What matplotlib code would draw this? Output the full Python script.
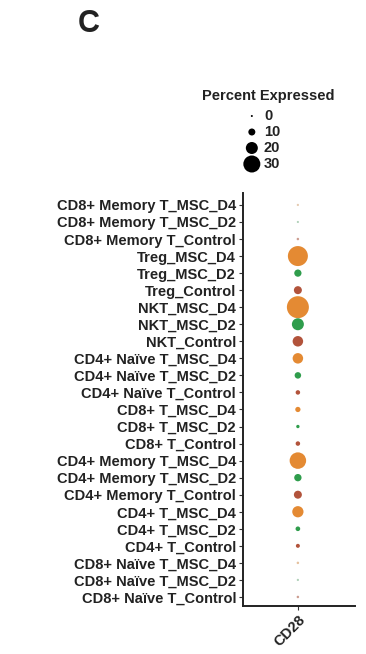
import numpy as np
import matplotlib.pyplot as plt
from matplotlib.colors import to_rgb

plt.rcParams['font.family'] = ['Liberation Sans', 'DejaVu Sans']
plt.rcParams['font.weight'] = 'bold'

# rows listed top to bottom
cell_types = ["CD8+ Memory T", "Treg", "NKT", "CD4+ Naïve T",
              "CD8+ T", "CD4+ Memory T", "CD4+ T", "CD8+ Naïve T"]
conditions = ["MSC_D4", "MSC_D2", "Control"]
cond_colors = {"MSC_D4": "#E48A33", "MSC_D2": "#2F9D4C", "Control": "#B2533B"}

# percent expressing CD28, one value per row (top to bottom)
pct_expr = [0.5, 0.3, 1.0,
            36, 10.5, 12,
            40, 20, 17,
            17, 9, 5,
            6.5, 2.7, 5,
            29, 10.7, 12,
            18.5, 5.3, 4,
            1.0, 0.5, 1.0]
# scaled average expression (colour intensity)
avg_exp = [0.3, 0.3, 0.5,
           1.0, 1.0, 1.0,
           1.0, 1.0, 1.0,
           1.0, 1.0, 1.0,
           1.0, 1.0, 1.0,
           1.0, 1.0, 1.0,
           1.0, 1.0, 1.0,
           0.4, 0.3, 0.5]
gene = "CD28"
legend_vals = [0, 10, 20, 30]

labels = [f"{c}_{k}" for c in cell_types for k in conditions]
row_cond = [k for c in cell_types for k in conditions]

FS = 10.5
TXT = "#222222"


def dot_size(p):
    # diameter in pixels -> area in points^2 (dpi 100)
    d = (2 + 0.5 * np.asarray(p)) * 0.72
    return d ** 2


def shade(cond, a):
    c = np.array(to_rgb(cond_colors[cond]))
    grey = np.array(to_rgb("#E6E6E6"))
    return tuple(grey + (c - grey) * a)


fig = plt.figure(figsize=(3.66, 6.54), dpi=100)
ax = fig.add_axes([243 / 366, 1 - 606 / 654, 112 / 366, 413 / 654])

n = len(labels)
ypos = np.arange(n)[::-1]
xpos = np.zeros(n)
colors = [shade(k, a) for k, a in zip(row_cond, avg_exp)]
ax.scatter(xpos, ypos, s=dot_size(pct_expr), c=colors, linewidths=0)

ax.set_ylim(-0.53, n - 1 + 0.7)
ax.set_xlim(-0.98, 1.02)
ax.set_yticks(ypos)
ax.set_yticklabels(labels, fontsize=FS, color=TXT)
ax.set_xticks([0])
ax.set_xticklabels([gene], rotation=45, ha="right", va="top",
                   rotation_mode="anchor", fontsize=FS, color=TXT)
ax.tick_params(length=3, width=0.8, color="#333333", pad=2)
for s in ["top", "right"]:
    ax.spines[s].set_visible(False)
for s in ["left", "bottom"]:
    ax.spines[s].set_linewidth(1.4)
    ax.spines[s].set_color(TXT)

# size legend
lax = fig.add_axes([245 / 366, 1 - 172 / 654, 60 / 366, 64 / 654])
ly = np.arange(len(legend_vals))[::-1]
lax.scatter(np.zeros(len(legend_vals)), ly, s=dot_size(legend_vals), c="black",
            linewidths=0, clip_on=False)
for v, yy in zip(legend_vals, ly):
    lax.text(0.8, yy, str(v), fontsize=FS, va="center", ha="left", color=TXT)
lax.set_xlim(-0.45, 3.5)
lax.set_ylim(-0.5, len(legend_vals) - 0.5)
lax.axis("off")
fig.text(268 / 366, 1 - 96 / 654, "Percent Expressed", fontsize=FS,
         ha="center", va="center", color=TXT)

fig.text(89 / 366, 1 - 24 / 654, "C", fontsize=22, ha="center", va="center", color=TXT)

fig.savefig("out.png", dpi=100)
